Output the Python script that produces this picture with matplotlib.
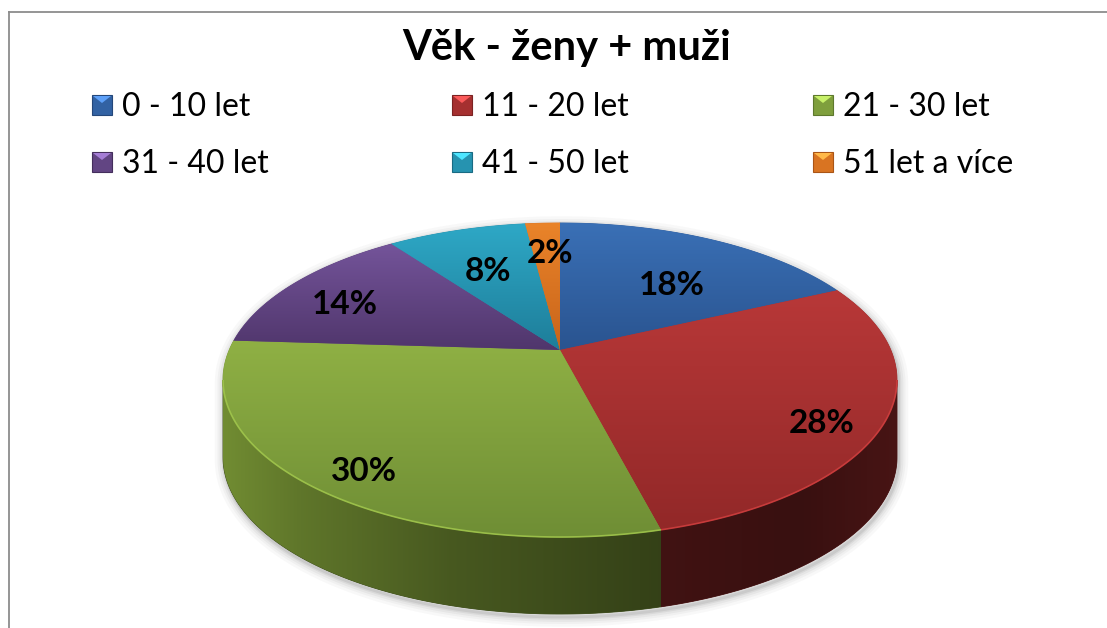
import numpy as np
import matplotlib
matplotlib.use("Agg")
import matplotlib.pyplot as plt
from matplotlib.patches import Polygon, Rectangle

# ---------------- data ----------------
title = "Věk - ženy + muži"
categories = ["0 - 10 let", "11 - 20 let", "21 - 30 let",
              "31 - 40 let", "41 - 50 let", "51 let a více"]
values = [18, 28, 30, 14, 8, 2]            # percent
value_labels = [f"{v}%" for v in values]

# ---------------- style ----------------
top_light = ["#3a70b6", "#b83838", "#8fb044", "#74549a", "#2ea8c6", "#ea842a"]
top_dark = ["#2a5490", "#922828", "#6f8e35", "#50366c", "#1e7e9a", "#c8641a"]
side_base = [(0.20, 0.40, 0.66), (0.67, 0.19, 0.19), (0.54, 0.67, 0.24),
             (0.40, 0.28, 0.55), (0.16, 0.58, 0.70), (0.88, 0.48, 0.14)]
# label placement (layout): distance from centre and angular nudge
label_r = [0.62, 0.84, 0.85, 0.78, 0.66, 0.77]
label_dt = [-4.2, -4.7, 2.2, 1.8, 0.0, -1.0]

W, H = 1107, 628
AX, AY = 560.0, 350.0        # projected centre of the pie top
SX, SY = 330.8, 151.3        # projection scale
K = 0.191                    # perspective strength
DEPTH = 77.0                 # pie thickness in px

plt.rcParams["font.family"] = ["Lato", "DejaVu Sans"]

fig = plt.figure(figsize=(W / 100, H / 100), dpi=100)
ax = fig.add_axes([0, 0, 1, 1])
ax.set_xlim(0, W)
ax.set_ylim(H, 0)
ax.axis("off")


def project(theta_deg, r=1.0):
    t = np.radians(theta_deg)
    u = r * np.cos(t)
    v = r * np.sin(t)
    w = 1 + K * v
    return AX + SX * u / w, AY - SY * v / w


def gradient_fill(verts, c_top, c_bot, z, horizontal=None):
    poly = Polygon(verts, closed=True, facecolor="none", edgecolor="none", zorder=z)
    ax.add_patch(poly)
    x0, y0 = verts.min(axis=0)
    x1, y1 = verts.max(axis=0)
    if horizontal is None:
        n = 64
        t = np.linspace(0, 1, n)[:, None]
        img = (1 - t) * np.array(c_top)[None, :] + t * np.array(c_bot)[None, :]
        img = img[:, None, :]
    else:
        n = 128
        xs = np.linspace(x0, x1, n)
        img = horizontal(xs)[None, :, :]
    im = ax.imshow(np.clip(img, 0, 1), extent=[x0, x1, y1, y0], origin="upper",
                   interpolation="bilinear", aspect="auto", zorder=z)
    im.set_clip_path(poly)
    return poly


def hex2rgb(h):
    return np.array(matplotlib.colors.to_rgb(h))


total = float(sum(values))
bounds = 90 - 360 * np.concatenate([[0], np.cumsum(values)]) / total
front_lo = -180 + np.degrees(np.arcsin(K))   # left silhouette angle
front_hi = -np.degrees(np.arcsin(K))         # right silhouette angle

# --- shadow under the pie
arc_back = np.linspace(front_hi, 180 + np.degrees(np.arcsin(K)), 200)
bx, by = project(arc_back)
arc_front = np.linspace(front_lo, front_hi, 200)
fx, fy = project(arc_front)
sil = np.column_stack([np.concatenate([bx, fx]), np.concatenate([by, fy + DEPTH])])
for lw, a in [(14, 0.03), (10, 0.04), (7, 0.05), (4, 0.07), (2, 0.09)]:
    ax.add_patch(Polygon(sil + np.array([1.5, 3.0]), closed=True, facecolor="none",
                         edgecolor=(0.2, 0.2, 0.2, a), lw=lw, zorder=1, joinstyle="round"))

# --- side faces
shade_x = [222, 300, 450, 660, 800, 897]
shade_f = [0.82, 0.69, 0.52, 0.38, 0.33, 0.42]
for i in range(len(values)):
    a0, a1 = bounds[i], bounds[i + 1]
    lo, hi = max(a1, front_lo), min(a0, front_hi)
    if hi <= lo:
        continue
    th = np.linspace(hi, lo, 120)
    x, y = project(th)
    verts = np.column_stack([np.concatenate([x, x[::-1]]), np.concatenate([y, y[::-1] + DEPTH])])
    base = np.array(side_base[i])
    ax.add_patch(Polygon(verts, closed=True, facecolor=base * 0.45, edgecolor=base * 0.45,
                         lw=0.6, zorder=2))
    gradient_fill(verts, None, None, 3,
                  horizontal=lambda xs, b=base: np.interp(xs, shade_x, shade_f)[:, None] * b[None, :])

# --- top faces
for i in range(len(values)):
    a0, a1 = bounds[i], bounds[i + 1]
    th = np.linspace(a0, a1, max(8, int(abs(a0 - a1) * 2)))
    x, y = project(th)
    verts = np.column_stack([np.concatenate([[AX], x]), np.concatenate([[AY], y])])
    mid = (hex2rgb(top_light[i]) + hex2rgb(top_dark[i])) / 2
    ax.add_patch(Polygon(verts, closed=True, facecolor=mid, edgecolor=mid, lw=0.6, zorder=4))
    gradient_fill(verts, hex2rgb(top_light[i]), hex2rgb(top_dark[i]), 5)
    # light rim highlight on the front edge
    lo, hi = max(a1, front_lo), min(a0, front_hi)
    if hi > lo:
        rx, ry = project(np.linspace(hi, lo, 120))
        ax.plot(rx, ry, color=np.clip(hex2rgb(top_light[i]) * 1.15, 0, 1), lw=1.2,
                alpha=0.8, zorder=6, solid_capstyle="butt")

# --- data labels
for i, lab in enumerate(value_labels):
    mid_angle = (bounds[i] + bounds[i + 1]) / 2 + label_dt[i]
    lx, ly = project(mid_angle, label_r[i])
    ax.text(lx, ly + 2, lab, ha="center", va="center_baseline", fontsize=24,
            fontweight="bold", color="black", zorder=7)

# --- title
ax.text(567, 60, title, ha="center", va="baseline", fontsize=30, fontweight="bold",
        color="black")

# --- legend
col_x = [92, 452, 813]
row_y = [95, 152]
for i, cat in enumerate(categories):
    cx = col_x[i % 3]
    ry_ = row_y[i // 3]
    c_mid = (hex2rgb(top_light[i]) + hex2rgb(top_dark[i])) / 2
    ax.add_patch(Rectangle((cx, ry_), 20, 20, facecolor=c_mid,
                           edgecolor=hex2rgb(top_dark[i]) * 0.85, lw=0.8, zorder=3))
    ax.add_patch(Polygon([[cx + 1, ry_ + 1], [cx + 19, ry_ + 1], [cx + 10, ry_ + 8]], closed=True,
                         facecolor=np.clip(hex2rgb(top_light[i]) * 1.25 + 0.08, 0, 1),
                         edgecolor="none", zorder=4))
    ax.text(cx + 30, ry_ + 21, cat, ha="left", va="baseline", fontsize=23, color="black")

# --- chart frame
ax.plot([9, W], [12, 12], color="#8c8c8c", lw=1.3, zorder=0)
ax.plot([9, 9], [12, H], color="#8c8c8c", lw=1.3, zorder=0)

fig.savefig("out.png", dpi=100)
